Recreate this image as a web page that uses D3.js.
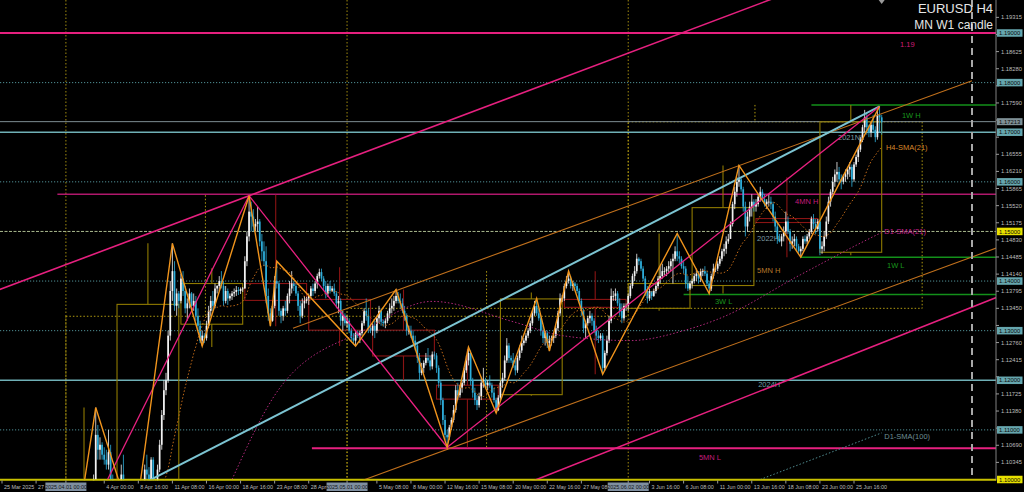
<!DOCTYPE html>
<html><head><meta charset="utf-8">
<script src="https://cdn.jsdelivr.net/npm/d3@7/dist/d3.min.js"></script>
<style>html,body{margin:0;padding:0;background:#000;overflow:hidden}svg{display:block}</style>
</head><body>
<svg id="c" width="1024" height="492"></svg>
<script>
// ===================== DATA =====================
// H4 bars of EURUSD, [high, low, close] in pips above 1.0000 (805 -> 1.0805); open = previous close
const firstOpen = 800;
const bars = [
// 25 Mar
[805,795,802],[812,798,808],[830,805,825],[828,806,810],[812,786,792],[796,785,790],
// 26 Mar
[800,786,795],[798,788,790],[792,770,775],[785,760,768],[772,746,750],[758,745,752],
// 27 Mar
[758,740,745],[750,733,740],[770,738,765],[800,760,795],[815,790,805],[808,795,800],
// 28 Mar
[806,795,798],[802,780,788],[815,785,810],[830,805,822],[828,812,818],[827,815,825],
// 31 Mar
[826,800,805],[810,780,785],[802,782,798],[822,795,818],[830,808,812],[818,808,815],
// 1 Apr
[818,805,810],[825,806,820],[830,800,805],[808,780,788],[800,782,795],[798,786,790],
// 2 Apr
[795,782,786],[792,775,785],[805,782,800],[812,790,795],[830,790,805],[880,800,850],
// 3 Apr
[935,850,925],[1010,920,1000],[1145,1000,1090],[1110,1040,1060],[1085,1040,1070],[1075,1040,1050],
// 4 Apr
[1065,1030,1040],[1060,1020,1030],[1100,1020,1055],[1070,995,1000],[1010,960,975],[985,950,960],
// 7 Apr
[965,880,900],[960,895,950],[1030,945,1010],[1050,960,970],[975,925,940],[945,905,910],
// 8 Apr
[935,905,930],[950,925,945],[980,940,965],[970,945,955],[965,940,960],[968,950,960],
// 9 Apr
[990,955,985],[1030,980,1020],[1050,1000,1010],[1025,985,1000],[1045,990,1040],[1045,950,960],
// 10 Apr
[1000,950,990],[1030,985,1020],[1080,1015,1070],[1140,1060,1130],[1200,1120,1180],[1215,1170,1200],
// 11 Apr
[1300,1195,1290],[1400,1280,1380],[1476,1360,1420],[1440,1340,1350],[1385,1330,1375],[1380,1345,1360],
// 14 Apr
[1415,1355,1405],[1420,1370,1380],[1390,1335,1345],[1365,1320,1355],[1385,1345,1375],[1378,1345,1350],
// 15 Apr
[1375,1340,1360],[1370,1320,1330],[1345,1300,1310],[1320,1275,1280],[1300,1269,1290],[1295,1275,1285],
// 16 Apr
[1320,1280,1310],[1350,1305,1340],[1370,1330,1360],[1380,1340,1350],[1395,1345,1385],[1392,1375,1390],
// 17 Apr
[1410,1380,1400],[1420,1385,1390],[1400,1350,1360],[1390,1355,1380],[1385,1352,1365],[1375,1360,1370],
// 18 Apr
[1380,1362,1375],[1385,1368,1378],[1390,1370,1382],[1388,1372,1380],[1387,1374,1384],[1388,1378,1385],
// 21 Apr
[1450,1385,1440],[1500,1430,1490],[1572,1480,1540],[1560,1500,1530],[1545,1500,1510],[1525,1500,1515],
// 22 Apr
[1550,1500,1520],[1525,1470,1480],[1495,1440,1460],[1480,1430,1440],[1470,1355,1370],[1385,1320,1335],
// 23 Apr
[1345,1309,1320],[1360,1318,1350],[1410,1345,1400],[1440,1385,1395],[1400,1330,1340],[1345,1315,1330],
// 24 Apr
[1350,1320,1345],[1360,1330,1340],[1375,1335,1370],[1400,1355,1385],[1420,1375,1395],[1400,1380,1390],
// 25 Apr
[1395,1370,1375],[1380,1340,1350],[1360,1315,1330],[1365,1325,1355],[1370,1345,1360],[1368,1355,1365],
// 28 Apr
[1375,1352,1370],[1390,1365,1385],[1395,1370,1380],[1400,1375,1395],[1415,1385,1410],[1425,1405,1418],
// 29 Apr
[1425,1400,1405],[1410,1380,1390],[1400,1365,1375],[1395,1368,1390],[1400,1375,1380],[1390,1378,1385],
// 30 Apr
[1395,1370,1375],[1380,1345,1355],[1370,1335,1360],[1365,1310,1320],[1340,1300,1330],[1335,1310,1315],
// 1 May
[1330,1305,1320],[1325,1295,1300],[1305,1278,1285],[1295,1272,1280],[1300,1269,1295],[1300,1285,1290],
// 2 May
[1300,1275,1295],[1320,1290,1315],[1345,1310,1340],[1365,1320,1330],[1345,1295,1305],[1310,1295,1300],
// 5 May
[1315,1290,1310],[1320,1285,1300],[1330,1295,1325],[1350,1315,1340],[1345,1310,1318],[1322,1308,1315],
// 6 May
[1325,1305,1320],[1340,1315,1335],[1355,1325,1345],[1365,1335,1350],[1370,1340,1360],[1383,1355,1370],
// 7 May
[1378,1355,1360],[1375,1345,1355],[1365,1335,1340],[1350,1320,1330],[1335,1290,1300],[1310,1292,1300],
// 8 May
[1310,1285,1290],[1300,1275,1280],[1290,1260,1270],[1275,1235,1245],[1255,1200,1215],[1235,1210,1225],
// 9 May
[1240,1215,1235],[1255,1230,1245],[1265,1235,1240],[1250,1220,1228],[1258,1222,1252],[1258,1242,1250],
// 12 May
[1255,1215,1225],[1230,1185,1195],[1200,1150,1160],[1165,1110,1120],[1130,1080,1090],[1100,1065,1085],
// 13 May
[1110,1080,1105],[1125,1100,1120],[1150,1115,1140],[1190,1135,1180],[1195,1160,1170],[1190,1165,1185],
// 14 May
[1200,1175,1195],[1225,1190,1220],[1250,1215,1240],[1267,1230,1255],[1260,1190,1200],[1205,1165,1175],
// 15 May
[1185,1150,1160],[1170,1140,1150],[1175,1145,1168],[1205,1160,1195],[1225,1185,1200],[1205,1185,1190],
// 16 May
[1200,1180,1195],[1210,1185,1190],[1195,1165,1175],[1185,1155,1160],[1165,1134,1140],[1170,1138,1165],
// 19 May
[1200,1160,1195],[1215,1185,1205],[1250,1200,1240],[1285,1235,1270],[1275,1235,1245],[1250,1235,1240],
// 20 May
[1255,1225,1230],[1240,1210,1220],[1250,1215,1245],[1270,1240,1260],[1290,1255,1275],[1285,1270,1280],
// 21 May
[1295,1275,1290],[1305,1285,1300],[1320,1295,1315],[1340,1310,1335],[1360,1330,1350],[1365,1330,1335],
// 22 May
[1345,1320,1325],[1330,1290,1300],[1310,1275,1285],[1300,1270,1295],[1300,1265,1275],[1290,1259,1280],
// 23 May
[1290,1270,1285],[1295,1275,1290],[1310,1285,1305],[1340,1300,1335],[1375,1330,1365],[1372,1358,1365],
// 26 May
[1395,1360,1390],[1410,1385,1400],[1420,1395,1405],[1410,1385,1390],[1400,1380,1395],[1398,1385,1390],
// 27 May
[1395,1375,1380],[1385,1355,1360],[1365,1330,1340],[1345,1295,1305],[1320,1285,1315],[1330,1310,1325],
// 28 May
[1340,1315,1330],[1335,1310,1320],[1325,1295,1300],[1310,1280,1290],[1300,1275,1285],[1295,1280,1290],
// 29 May
[1295,1212,1225],[1260,1220,1255],[1290,1250,1280],[1330,1275,1320],[1385,1315,1370],[1380,1360,1370],
// 30 May
[1385,1360,1375],[1380,1350,1355],[1365,1330,1340],[1355,1315,1325],[1355,1320,1350],[1355,1340,1350],
// 2 Jun
[1375,1340,1370],[1395,1365,1390],[1415,1385,1410],[1430,1400,1420],[1455,1415,1445],[1448,1432,1440],
// 3 Jun
[1445,1420,1425],[1430,1400,1405],[1410,1370,1380],[1390,1355,1365],[1385,1360,1380],[1378,1362,1370],
// 4 Jun
[1385,1368,1380],[1395,1375,1390],[1410,1385,1405],[1430,1395,1410],[1435,1405,1420],[1428,1412,1420],
// 5 Jun
[1430,1410,1425],[1440,1415,1430],[1445,1420,1440],[1455,1395,1445],[1470,1440,1460],[1496,1440,1450],
// 6 Jun
[1460,1435,1445],[1450,1425,1430],[1440,1415,1425],[1430,1385,1395],[1410,1380,1385],[1400,1382,1395],
// 9 Jun
[1405,1385,1400],[1415,1395,1410],[1425,1400,1415],[1420,1395,1405],[1425,1398,1420],[1425,1410,1420],
// 10 Jun
[1430,1410,1415],[1420,1390,1395],[1400,1375,1385],[1415,1380,1410],[1435,1405,1425],[1432,1418,1425],
// 11 Jun
[1440,1420,1435],[1450,1430,1445],[1465,1440,1460],[1475,1450,1465],[1490,1455,1480],[1495,1475,1485],
// 12 Jun
[1520,1485,1515],[1560,1510,1555],[1590,1545,1580],[1610,1570,1600],[1633,1590,1605],[1610,1580,1585],
// 13 Jun
[1590,1540,1550],[1560,1490,1510],[1540,1500,1530],[1560,1520,1550],[1575,1530,1560],[1565,1540,1550],
// 16 Jun
[1565,1540,1555],[1575,1550,1570],[1590,1560,1580],[1585,1560,1565],[1575,1550,1555],[1565,1545,1560],
// 17 Jun
[1575,1550,1560],[1570,1545,1555],[1560,1520,1530],[1540,1500,1510],[1520,1475,1485],[1495,1478,1480],
// 18 Jun
[1495,1470,1490],[1510,1480,1500],[1540,1495,1520],[1530,1495,1500],[1505,1460,1475],[1490,1465,1480],
// 19 Jun
[1495,1470,1485],[1490,1460,1470],[1475,1455,1460],[1470,1448,1465],[1490,1460,1485],[1492,1475,1480],
// 20 Jun
[1495,1475,1490],[1505,1485,1500],[1530,1495,1525],[1535,1505,1515],[1525,1495,1505],[1525,1500,1520],
// 23 Jun
[1520,1452,1465],[1480,1455,1470],[1500,1460,1490],[1530,1485,1520],[1570,1515,1560],[1585,1550,1580],
// 24 Jun
[1610,1575,1600],[1625,1590,1615],[1640,1600,1620],[1630,1595,1605],[1615,1585,1600],[1615,1595,1610],
// 25 Jun
[1625,1600,1615],[1630,1605,1625],[1640,1610,1630],[1635,1590,1605],[1640,1600,1635],[1655,1630,1650],
// 26 Jun
[1670,1640,1665],[1690,1660,1685],[1715,1680,1710],[1745,1700,1730],[1740,1695,1710],[1715,1690,1700],
// 27 Jun
[1720,1690,1715],[1735,1700,1705],[1712,1680,1690],[1745,1685,1735],[1753,1700,1730],[1735,1695,1720]
];

// time-axis labels: [bar index, text]
const timeLabels = [
[0,"25 Mar 2025"],[16,"27 Mar 16:00"],[48,"4 Apr 00:00"],[64,"8 Apr 16:00"],
[80,"11 Apr 08:00"],[96,"16 Apr 00:00"],[112,"18 Apr 16:00"],[128,"23 Apr 08:00"],[144,"28 Apr 00:00"],
[176,"5 May 08:00"],[192,"8 May 00:00"],[208,"12 May 16:00"],[224,"15 May 08:00"],
[240,"20 May 00:00"],[256,"22 May 16:00"],[272,"27 May 08:00"],[304,"3 Jun 16:00"],
[320,"6 Jun 08:00"],[336,"11 Jun 00:00"],[352,"13 Jun 16:00"],[368,"18 Jun 08:00"],[384,"23 Jun 00:00"],
[400,"25 Jun 16:00"]];
// month separators: [bar index, label]
const monthMarks = [[30,"2025.04.01 00:00"],[162,"2025.05.01 00:00"],[294,"2025.06.02 00:00"]];

// price-axis tick labels
const priceTicks = ["1.19315","1.18970","1.18625","1.18280","1.17935","1.17590","1.17245","1.16900",
"1.16555","1.16210","1.15865","1.15520","1.15175","1.14830","1.14485","1.14140","1.13795","1.13450",
"1.13105","1.12760","1.12415","1.12070","1.11725","1.11380","1.11035","1.10690","1.10345"];

// horizontal objects
const roundLevels = [1.18, 1.16, 1.14, 1.13, 1.11];
const yearLevels = [[1.17,"2021NL"],[1.15,"2022H"],[1.12,"2024H"]];
const bidPrice = 1.17213;
const bottomLevel = 1.10;
// [name, price, first bar]
const periodLevels = [["1.19",1.1900,-2],["4MN H",1.1575,26],["5MN L",1.1063,145.5],
["1W H",1.1755,380],["1W L",1.1448,375],["3W L",1.1373,320]];
const axisBoxes = [[1.19,"1.19000"],[1.18,"1.18000"],[1.17213,"1.17213"],[1.17,"1.17000"],[1.16,"1.16000"],
[1.15,"1.15000"],[1.14,"1.14000"],[1.13,"1.13000"],[1.12,"1.12000"],[1.11,"1.11000"],[1.10,"1.10000"]];

// weekly candles (MN W1 candle): [start bar, open, high, low, close]
const weeks = [
[24,1.0825,1.1145,1.0780,1.0960],[54,1.0960,1.1476,1.0880,1.1353],[84,1.1313,1.1426,1.1267,1.1395],
[114,1.1395,1.1574,1.1309,1.1361],[144,1.1363,1.1428,1.1269,1.1301],[174,1.1301,1.1383,1.1200,1.1249],
[204,1.1190,1.1263,1.1065,1.1162],[234,1.1171,1.1377,1.1169,1.1364],[264,1.1363,1.1420,1.1212,1.1347],
[294,1.1345,1.1496,1.1340,1.1395],[324,1.1391,1.1633,1.1375,1.1548],[354,1.1526,1.1609,1.1448,1.1518],
[384,1.1458,1.1755,1.1452,1.1721]];
// monthly candles: [start bar, end bar, open, high, low, close]
const months = [[30,162,1.0815,1.1573,1.0733,1.1329],[162,294,1.1329,1.1420,1.1065,1.1345],[294,432,1.1345,1.1755,1.1340,1.1721]];

// zigzag swing points [bar, price]
const zigzagFast = [[31,1.0780],[44,1.1145],[62,1.0900],[80,1.1476],[94,1.1269],[116,1.1572],[126,1.1309],
[129,1.1440],[166,1.1269],[185,1.1383],[209,1.1065],[219,1.1267],[232,1.1134],[251,1.1365],[257,1.1259],
[266,1.1420],[282,1.1212],[317,1.1496],[332,1.1375],[346,1.1633],[375,1.1448],[412,1.1752]];
const zigzagSlow = [[24,1.0780],[116,1.1572],[209,1.1065],[412,1.1752]];

// trend lines: two anchors [bar, price]
const trendTeal = [[70,1.1000],[412,1.1752]];
const chanPinkUpper = [[-1,1.1383],[116,1.1572]];
const chanPinkLower = [[281,1.1051],[394,1.1243]];
const chanOrangeUpper = [[136.6,1.1305],[437,1.1775]];
const chanOrangeLower = [[170.4,1.1000],[459.2,1.14545]];

// daily moving averages [bar, price]
const d1sma21 = [[108,1.1000],[130,1.1182],[171,1.1303],[202,1.1359],[240,1.1318],[263,1.1290],[295,1.1280],
[320,1.1300],[336,1.1323],[375,1.1413],[406,1.1483],[413,1.1498]];
const d1sma100 = [[356,1.1000],[413,1.1094]];

// ===================== DRAW =====================
const W = 1024, H = 492, PR = 996, PB = 479.5;
const svg = d3.select("#c");
svg.append("rect").attr("width",W).attr("height",H).attr("fill","#000");
const x = d3.scaleLinear().domain([0,413]).range([2, 2 + 2.13*413]);
const y = d3.scaleLinear().domain([1.10,1.19]).range([479.5,33]);
const P = v => 1 + v/10000;
const FONT = "'Liberation Sans', Arial, sans-serif";

svg.append("defs").append("clipPath").attr("id","pc").append("rect")
  .attr("x",0).attr("y",0).attr("width",PR).attr("height",PB+1);
const g = svg.append("g").attr("clip-path","url(#pc)");

function hline(p, x0, stroke, w, dash){
  const l = g.append("line").attr("x1",x0).attr("x2",PR).attr("y1",y(p)).attr("y2",y(p))
    .attr("stroke",stroke).attr("stroke-width",w);
  if (dash) l.attr("stroke-dasharray",dash);
  return l;
}
function vline(b, y0, y1, stroke, w, dash){
  const l = g.append("line").attr("x1",x(b)).attr("x2",x(b)).attr("y1",y0).attr("y2",y1)
    .attr("stroke",stroke).attr("stroke-width",w);
  if (dash) l.attr("stroke-dasharray",dash);
}
function lineThrough(a, b, b0, b1){
  const s = (b[1]-a[1])/(b[0]-a[0]);
  return [[b0, a[1] + s*(b0-a[0])],[b1, a[1] + s*(b1-a[0])]];
}
const lineGen = d3.line().x(d=>x(d[0])).y(d=>y(d[1]));

// month separators (full height dotted)
monthMarks.forEach(m => vline(m[0], 0, PB, "#a08a10", 1, "1.5,2"));

// monthly candles (dotted)
months.forEach(m => {
  const [s,e,o,h,l,c] = m;
  const top = y(Math.max(o,c)), bot = y(Math.min(o,c));
  const gg = g.append("g").attr("fill","none").attr("stroke","#b09a10").attr("stroke-width",1).attr("stroke-dasharray","1.5,2");
  gg.append("rect").attr("x",x(s)).attr("y",top).attr("width",x(e)-x(s)).attr("height",Math.max(0.5,bot-top));
  const mid = (s + Math.min(e,414) - 1)/2;
  gg.append("line").attr("x1",x(mid)).attr("x2",x(mid)).attr("y1",y(h)).attr("y2",top);
  gg.append("line").attr("x1",x(mid)).attr("x2",x(mid)).attr("y1",bot).attr("y2",y(l));
});

// round number levels
roundLevels.forEach(p => hline(p, 0, "#4f8e94", 1, "1.2,1.8"));
// year levels
yearLevels.forEach(([p,name]) => {
  if (name === "2022H") hline(p, 0, "#a9b98e", 1, "3,1.5");
  else hline(p, 0, "#6fb0b6", 1.6);
});
hline(bidPrice, 0, "#7d8c92", 1);
hline(bottomLevel, 0, "#c8c000", 1.5);

// period levels
const plStyle = {"1.19":["#e6207f",2],"4MN H":["#b0186c",1.3],"5MN L":["#e6207f",2],
  "1W H":["#13901a",1.4],"1W L":["#13901a",1.4],"3W L":["#13901a",1.4]};
periodLevels.forEach(([n,p,b]) => hline(p, x(b), plStyle[n][0], plStyle[n][1]));

// weekly candles
weeks.forEach(([s,o,h,l,c]) => {
  const col = c >= o ? "#8f7a00" : "#8a1414";
  const top = y(Math.max(o,c)), bot = y(Math.min(o,c));
  const gg = g.append("g").attr("fill","none").attr("stroke",col).attr("stroke-width",1.1);
  gg.append("rect").attr("x",x(s)).attr("y",top).attr("width",x(s+29)-x(s)).attr("height",Math.max(0.5,bot-top));
  const mid = x(s+14.5);
  gg.append("line").attr("x1",mid).attr("x2",mid).attr("y1",y(h)).attr("y2",top);
  gg.append("line").attr("x1",mid).attr("x2",mid).attr("y1",bot).attr("y2",y(l));
});

// labels behind candles
function label(txt, b, p, dy, col, size){
  g.append("text").attr("x",x(b)).attr("y",y(p)+dy).text(txt).attr("fill",col)
    .attr("font-family",FONT).attr("font-size",size||7.5);
}
label("1.19", 421.6, 1.19, 14, "#d01c78");
label("4MN H", 372.3, 1.1575, 10, "#c41c7c");
label("5MN L", 327.2, 1.1063, 12, "#c41c7c");
label("1W H", 422.5, 1.1755, 13, "#19961c");
label("1W L", 415.5, 1.1448, 11, "#19961c");
label("3W L", 334.7, 1.1373, 10, "#19961c");
label("5MN H", 354.5, 1.1420, 2, "#b8782a");
label("2021NL", 392.5, 1.17, 8, "#7e9ca2");
label("2022H", 354.5, 1.15, 9.5, "#7e9ca2");
label("2024H", 355, 1.12, 6.5, "#6f9ca2");

// candles
let prev = firstOpen;
const candles = bars.map((b,i) => { const o = prev; prev = b[2]; return {i, o:P(o), h:P(b[0]), l:P(b[1]), c:P(b[2])}; });
const cg = g.append("g");
candles.forEach(d => {
  const col = d.c >= d.o ? "#f2f2f2" : "#2eaedb";
  cg.append("line").attr("x1",x(d.i)).attr("x2",x(d.i)).attr("y1",y(d.h)).attr("y2",y(d.l))
    .attr("stroke",col).attr("stroke-width",0.8);
  const t = y(Math.max(d.o,d.c)), bt = y(Math.min(d.o,d.c));
  cg.append("rect").attr("x",x(d.i)-0.85).attr("width",1.7).attr("y",t).attr("height",Math.max(0.8,bt-t)).attr("fill",col);
});

// H4 SMA(21) of closes
const sma = [];
for (let i = 20; i < candles.length; i++){
  let s = 0; for (let k = i-20; k <= i; k++) s += candles[k].c;
  sma.push([i, s/21]);
}
g.append("path").datum(sma).attr("d",lineGen).attr("fill","none").attr("stroke","#c06a18")
  .attr("stroke-width",1).attr("stroke-dasharray","1.5,2");
// D1 SMAs
const curve = d3.line().x(d=>x(d[0])).y(d=>y(d[1])).curve(d3.curveMonotoneX);
g.append("path").datum(d1sma21).attr("d",curve).attr("fill","none").attr("stroke","#b0287a")
  .attr("stroke-width",1).attr("stroke-dasharray","1.5,2");
g.append("path").datum(d1sma100).attr("d",curve).attr("fill","none").attr("stroke","#4f8a8e")
  .attr("stroke-width",1).attr("stroke-dasharray","1.5,2");

// channels and trend lines
function tl(anchors, b0, b1, col, w){
  g.append("path").datum(lineThrough(anchors[0], anchors[1], b0, b1)).attr("d",lineGen)
    .attr("fill","none").attr("stroke",col).attr("stroke-width",w);
}
tl(chanOrangeLower, 165, 470, "#c0701c", 1.1);
tl(chanOrangeUpper, 136.6, 455.4, "#c0701c", 1.1);
tl(chanPinkUpper, -2, 420, "#e6207f", 1.6);
tl(chanPinkLower, 240, 470, "#e6207f", 1.6);
tl(trendTeal, 55, 412, "#7cc4d2", 2);

// zigzags
g.append("path").datum(zigzagSlow).attr("d",lineGen).attr("fill","none").attr("stroke","#e6207f").attr("stroke-width",1.3);
g.append("path").datum(zigzagFast).attr("d",lineGen).attr("fill","none").attr("stroke","#f0941c").attr("stroke-width",1.4);

// indicator labels
label("H4-SMA(21)", 415, 1.1670, 3, "#d8862a");
label("D1-SMA(21)", 414.2, 1.15, 3, "#c0208a");
label("D1-SMA(100)", 414.2, 1.1094, 6, "#6d8e94");

// chart shift line
vline(455.4, 0, PB, "#a8a8a8", 2, "7,5");

// ===================== AXES =====================
const ax = svg.append("g").attr("font-family",FONT);
ax.append("rect").attr("x",PR).attr("y",0).attr("width",W-PR).attr("height",H).attr("fill","#000");
ax.append("rect").attr("x",0).attr("y",PB+1).attr("width",W).attr("height",H-PB).attr("fill","#000");
ax.append("line").attr("x1",PR).attr("x2",PR).attr("y1",0).attr("y2",PB+1).attr("stroke","#808080").attr("stroke-width",1);
ax.append("line").attr("x1",0).attr("x2",PR).attr("y1",PB+0.5).attr("y2",PB+0.5).attr("stroke","#c8c000").attr("stroke-width",1.5);

// tick labels (those lying under a level box are hidden, as on the reference)
priceTicks.forEach(s => {
  const ty = y(+s);
  ax.append("line").attr("x1",PR).attr("x2",PR+3).attr("y1",ty).attr("y2",ty).attr("stroke","#9a9a9a");
  const covered = axisBoxes.some(([p]) => Math.abs(y(p) - ty) < 6.5);
  if (!covered) ax.append("text").attr("x",PR+5).attr("y",ty+2).text(s).attr("fill","#bcbcbc").attr("font-size",5.8);
});
axisBoxes.forEach(([p,s]) => {
  const ty = y(p);
  const bg = (s === "1.15000" || s === "1.10000") ? "#e8e000" : (s === "1.17213" ? "#7f9096" : "#66a6ae");
  const bh = s === "1.17213" ? 7 : 7.5;
  ax.append("rect").attr("x",PR+1).attr("y",ty-bh/2).attr("width",25.5).attr("height",bh).attr("fill",bg);
  ax.append("text").attr("x",PR+3).attr("y",ty+2.1).text(s).attr("fill","#0a0a0a").attr("font-size",5.9);
});

timeLabels.forEach(([b,s]) => {
  ax.append("line").attr("x1",x(b)).attr("x2",x(b)).attr("y1",PB+1).attr("y2",PB+4).attr("stroke","#9a9a9a");
});
monthMarks.forEach(([b]) => {
  ax.append("line").attr("x1",x(b)).attr("x2",x(b)).attr("y1",PB+1).attr("y2",PB+4).attr("stroke","#9a9a9a");
});
timeLabels.forEach(([b,s]) => {
  const t = ax.append("text").attr("x",x(b)+2).attr("y",PB+9.5).text(s).attr("fill","#bcbcbc").attr("font-size",5.4);
  // keep label inside the gap before the next tick (MT4 style)
  const w = t.node().getComputedTextLength();
  if (w > 31) t.attr("textLength",31).attr("lengthAdjust","spacingAndGlyphs");
});
monthMarks.forEach(([b,s]) => {
  ax.append("rect").attr("x",x(b)-20.5).attr("y",PB+3).attr("width",41).attr("height",8.5).attr("fill","#7f8fa0");
  ax.append("text").attr("x",x(b)).attr("y",PB+9.5).attr("text-anchor","middle").text(s).attr("fill","#101418").attr("font-size",5.4);
});

// title
svg.append("text").attr("x",993).attr("y",13).attr("text-anchor","end").text("EURUSD H4")
  .attr("fill","#e6e6e6").attr("font-family",FONT).attr("font-size",13);
svg.append("text").attr("x",993).attr("y",29).attr("text-anchor","end").text("MN W1 candle")
  .attr("fill","#e6e6e6").attr("font-family",FONT).attr("font-size",12);
// chart shift marker
svg.append("path").attr("d",d3.line()([[x(413)-3,0],[x(413)+3,0],[x(413),4]]) + "Z").attr("fill","#9a9a9a");
</script>
</body></html>
